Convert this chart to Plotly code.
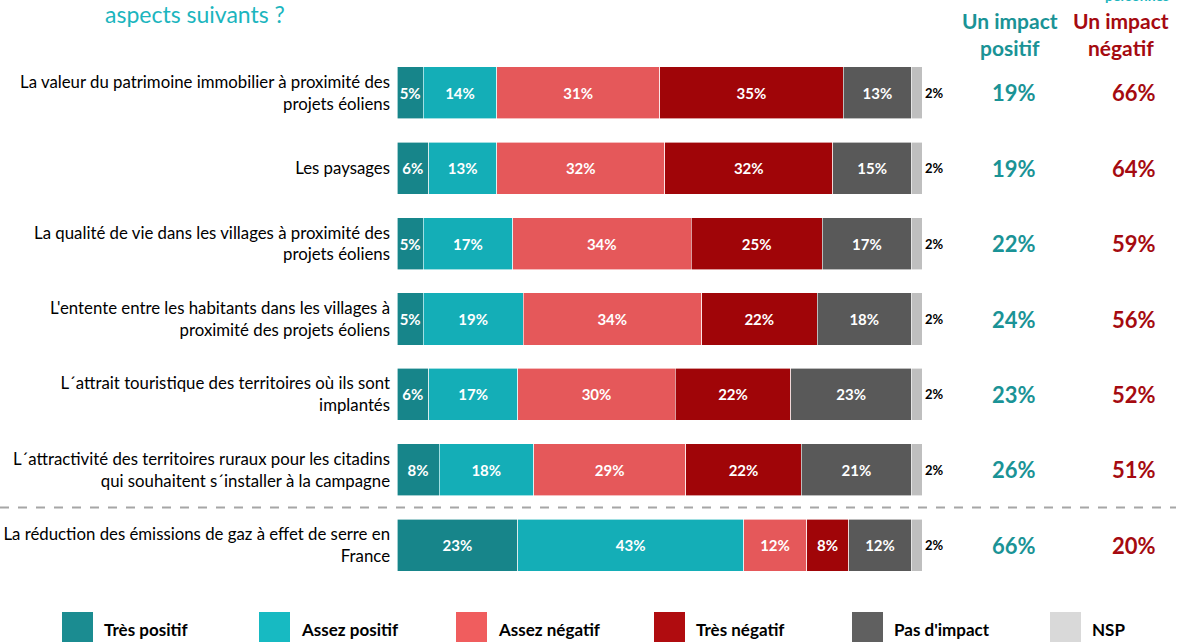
import plotly.graph_objects as go

# Survey items (one row each, top to bottom)
categories = [
    "La valeur du patrimoine immobilier à proximité des<br>projets éoliens",
    "Les paysages",
    "La qualité de vie dans les villages à proximité des<br>projets éoliens",
    "L'entente entre les habitants dans les villages à<br>proximité des projets éoliens",
    "L´attrait touristique des territoires où ils sont<br>implantés",
    "L´attractivité des territoires ruraux pour les citadins<br>qui souhaitent s´installer à la campagne",
    "La réduction des émissions de gaz à effet de serre en<br>France",
]

# Answer shares (%)
tres_positif = [5, 6, 5, 5, 6, 8, 23]
assez_positif = [14, 13, 17, 19, 17, 18, 43]
assez_negatif = [31, 32, 34, 34, 30, 29, 12]
tres_negatif = [35, 32, 25, 22, 22, 22, 8]
pas_impact = [13, 15, 17, 18, 23, 21, 12]
nsp = [2, 2, 2, 2, 2, 2, 2]

# Aggregated totals shown on the right
impact_positif = [19, 19, 22, 24, 23, 26, 66]
impact_negatif = [66, 64, 59, 56, 52, 51, 20]

series_names = ["Très positif", "Assez positif", "Assez négatif", "Très négatif", "Pas d'impact", "NSP"]
series_values = [tres_positif, assez_positif, assez_negatif, tres_negatif, pas_impact, nsp]
bar_colors = ["#17858A", "#14AEB7", "#E5585A", "#A00508", "#595959", "#BFBFBF"]
legend_colors = ["#1B8C91", "#17BAC2", "#F05D5E", "#B00C0F", "#606060", "#D9D9D9"]

FONT = "Lato"
TEAL = "#1A9396"
DARK_RED = "#A50A10"
W, H = 1190, 642
ML, MR, MT, MB = 397, 268, 55, 59
PW, PH = W - ML - MR, H - MT - MB


def px_x(px):
    return (px - ML) / PW


def px_y(py):
    return (H - MB - py) / PH


def row_y(i):
    # vertical centre of row i in paper units (rows are one unit apart, range -0.5..6.5)
    return 1 - (i + 0.5) / len(categories)


rows = list(range(len(categories)))

fig = go.Figure()
for name, vals, col in zip(series_names, series_values, bar_colors):
    is_nsp = name == "NSP"
    fig.add_trace(go.Bar(
        name=name,
        y=rows,
        x=vals,
        orientation="h",
        width=0.69,
        marker=dict(color=col, line=dict(color="white", width=0.6)),
        texttemplate="<b>%{x}%</b>",
        textposition="outside" if is_nsp else "inside",
        textangle=0,
        insidetextanchor="middle",
        constraintext="none",
        cliponaxis=False,
        insidetextfont=dict(family=FONT, size=15, color="white"),
        outsidetextfont=dict(family=FONT, size=13, color="black"),
        hoverinfo="skip",
        showlegend=False,
    ))

annotations = []
shapes = []

# Totals columns
for i in rows:
    annotations.append(dict(x=px_x(1014), y=row_y(i), xref="paper", yref="paper",
                            xanchor="center", yanchor="middle",
                            text=f"<b>{impact_positif[i]}%</b>", showarrow=False,
                            font=dict(family=FONT, size=22, color=TEAL)))
    annotations.append(dict(x=px_x(1134), y=row_y(i), xref="paper", yref="paper",
                            xanchor="center", yanchor="middle",
                            text=f"<b>{impact_negatif[i]}%</b>", showarrow=False,
                            font=dict(family=FONT, size=22, color=DARK_RED)))

# Column headers
annotations.append(dict(x=px_x(1010), y=px_y(34), xref="paper", yref="paper",
                        xanchor="center", yanchor="middle",
                        text="<b>Un impact<br>positif</b>", showarrow=False,
                        font=dict(family=FONT, size=21, color=TEAL)))
annotations.append(dict(x=px_x(1121), y=px_y(34), xref="paper", yref="paper",
                        xanchor="center", yanchor="middle",
                        text="<b>Un impact<br>négatif</b>", showarrow=False,
                        font=dict(family=FONT, size=21, color=DARK_RED)))
annotations.append(dict(x=px_x(1137), y=px_y(6), xref="paper", yref="paper",
                        xanchor="center", yanchor="bottom",
                        text="<b>personnes</b>", showarrow=False,
                        font=dict(family=FONT, size=14, color="#1BB5BE")))

# Title (last line of the question)
annotations.append(dict(x=px_x(103), y=px_y(14), xref="paper", yref="paper",
                        xanchor="left", yanchor="middle",
                        text="aspects suivants ?", showarrow=False,
                        font=dict(family=FONT, size=23, color="#1BB5BE")))

# Separator before the last item
shapes.append(dict(type="line", xref="paper", yref="y", x0=px_x(0), x1=px_x(1176), y0=5.5, y1=5.5,
                   line=dict(color="#A6A6A6", width=2, dash="dash")))

# Legend
leg_x = [62, 259, 456, 654, 852, 1050]
for lx, name, col in zip(leg_x, series_names, legend_colors):
    shapes.append(dict(type="rect", xref="paper", yref="paper",
                       x0=px_x(lx), x1=px_x(lx + 31), y0=px_y(612), y1=px_y(643),
                       fillcolor=col, line=dict(color=col, width=0)))
    annotations.append(dict(x=px_x(lx + 40), y=px_y(629), xref="paper", yref="paper",
                            xanchor="left", yanchor="middle",
                            text=f"<b>{name}</b>", showarrow=False,
                            font=dict(family=FONT, size=17, color="black")))

fig.update_layout(
    width=W, height=H, autosize=False,
    margin=dict(l=ML, r=MR, t=MT, b=MB, autoexpand=False),
    barmode="stack",
    plot_bgcolor="white", paper_bgcolor="white",
    font=dict(family=FONT, size=14, color="black"),
    xaxis=dict(range=[0, 100], visible=False, fixedrange=True, automargin=False),
    yaxis=dict(range=[6.5, -0.5], tickvals=rows, ticktext=categories, showgrid=False,
               zeroline=False, showline=False, ticks="", ticklabelstandoff=6, automargin=False,
               tickfont=dict(family=FONT, size=16.8, color="black")),
    annotations=annotations,
    shapes=shapes,
    showlegend=False,
)

fig.write_html("out.html")
